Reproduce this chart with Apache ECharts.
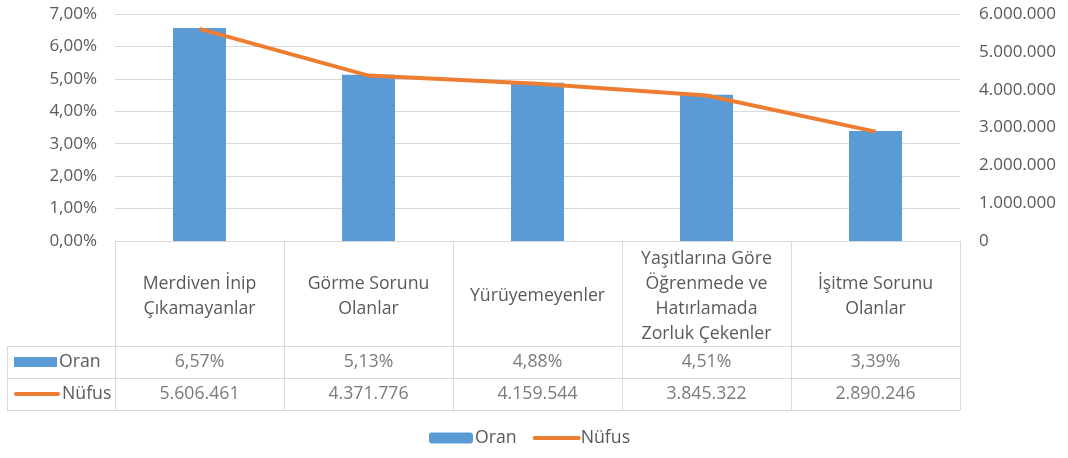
<!DOCTYPE html>
<html>
<head>
<meta charset="utf-8">
<script src="https://cdn.jsdelivr.net/npm/echarts@6/dist/echarts.min.js"></script>
<style>html,body{margin:0;padding:0;background:#fff;}#c{width:1068px;height:458px;}</style>
</head>
<body>
<div id="c"></div>
<script>
const categories = ['Merdiven İnip\nÇıkamayanlar', 'Görme Sorunu\nOlanlar', 'Yürüyemeyenler', 'Yaşıtlarına Göre\nÖğrenmede ve\nHatırlamada\nZorluk Çekenler', 'İşitme Sorunu\nOlanlar'];
const oranValues = [6.57, 5.13, 4.88, 4.51, 3.39];
const nufusValues = [5606461, 4371776, 4159544, 3845322, 2890246];
const rowNames = ['Oran', 'Nüfus'];
const seriesNames = ['Oran', 'Nüfus'];

const FONT = 'Open Sans';
const TXT = '#595959';
const GRID = '#d9d9d9';
const BLUE = '#5B9BD5';
const ORANGE = '#ED7D31';
const FS = 17.7;

function pct(v) { return v.toFixed(2).replace('.', ',') + '%'; }
function thousands(v) { return String(Math.round(v)).replace(/\B(?=(\d{3})+(?!\d))/g, '.'); }

const tableData = [];
oranValues.forEach((v, i) => tableData.push({ value: [i, 0], name: pct(v) }));
nufusValues.forEach((v, i) => tableData.push({ value: [i, 1], name: thousands(v) }));

const chart = echarts.init(document.getElementById('c'));
chart.setOption({
  animation: false,
  textStyle: { fontFamily: FONT },
  grid: [
    { left: 115, right: 108, top: 14, height: 227 },
    { left: 115, right: 108, top: 346, height: 64 },
    { left: 7, width: 108, top: 346, height: 64 }
  ],
  legend: {
    bottom: 6, left: 424, itemWidth: 44, itemHeight: 11, itemGap: 16,
    textStyle: { fontFamily: FONT, fontSize: FS, color: TXT, padding: [0, 0, 0, -3] },
    data: [
      { name: seriesNames[0] },
      { name: seriesNames[1], itemStyle: { opacity: 0 }, lineStyle: { width: 4, cap: 'round' } }
    ]
  },
  xAxis: [
    {
      gridIndex: 0, type: 'category', data: categories,
      axisLine: { lineStyle: { color: GRID, width: 1 } },
      axisTick: { show: true, interval: 0, length: 105, lineStyle: { color: GRID } },
      axisLabel: { interval: 0, margin: 55, verticalAlign: 'middle', lineHeight: 25, fontSize: FS, color: TXT, fontFamily: FONT }
    },
    {
      gridIndex: 1, type: 'category', data: categories,
      axisLine: { show: false }, axisTick: { show: false }, axisLabel: { show: false },
      splitLine: { show: true, interval: 0, lineStyle: { color: GRID } }
    },
    {
      gridIndex: 2, type: 'category', data: [''],
      axisLine: { show: false }, axisTick: { show: false }, axisLabel: { show: false },
      splitLine: { show: true, lineStyle: { color: GRID } }
    }
  ],
  yAxis: [
    {
      gridIndex: 0, type: 'value', min: 0, max: 7, interval: 1,
      axisLabel: { formatter: v => pct(v), fontSize: 17, color: TXT, margin: 18, fontFamily: FONT },
      splitLine: { lineStyle: { color: GRID } },
      axisLine: { show: false }, axisTick: { show: false }
    },
    {
      gridIndex: 0, type: 'value', min: 0, max: 6000000, interval: 1000000, position: 'right',
      axisLabel: { formatter: v => thousands(v), fontSize: 17, color: TXT, margin: 19, fontFamily: FONT },
      splitLine: { show: false }, axisLine: { show: false }, axisTick: { show: false }
    },
    {
      gridIndex: 1, type: 'category', data: rowNames, inverse: true,
      axisLine: { show: false }, axisTick: { show: false }, axisLabel: { show: false },
      splitLine: { show: true, interval: 0, lineStyle: { color: GRID } }
    },
    {
      gridIndex: 2, type: 'category', data: rowNames, inverse: true,
      axisLine: { show: false }, axisTick: { show: false },
      splitLine: { show: true, interval: 0, lineStyle: { color: GRID } },
      axisLabel: {
        inside: true, margin: 7, fontFamily: FONT,
        formatter: v => (v === 'Oran' ? '{bar|}{t|' + v + '}' : '{line|}{t|' + v + '}'),
        rich: {
          bar: { width: 43, height: 10, backgroundColor: BLUE, verticalAlign: 'middle' },
          line: { width: 46, height: 4, backgroundColor: ORANGE, borderRadius: 2, verticalAlign: 'middle' },
          t: { fontSize: FS, color: TXT, fontFamily: FONT, padding: [0, 0, 0, 2], verticalAlign: 'middle' }
        }
      }
    }
  ],
  series: [
    {
      name: seriesNames[0], type: 'bar', xAxisIndex: 0, yAxisIndex: 0,
      data: oranValues, barWidth: 53, itemStyle: { color: BLUE }, silent: true
    },
    {
      name: seriesNames[1], type: 'line', xAxisIndex: 0, yAxisIndex: 1,
      data: nufusValues, symbol: 'none', lineStyle: { color: ORANGE, width: 4 }, itemStyle: { color: ORANGE }, silent: true
    },
    {
      type: 'scatter', xAxisIndex: 1, yAxisIndex: 2, data: tableData, symbolSize: 0, silent: true,
      label: { show: true, position: 'inside', formatter: '{b}', fontSize: FS, color: TXT, fontFamily: FONT }
    }
  ]
});
</script>
</body>
</html>
